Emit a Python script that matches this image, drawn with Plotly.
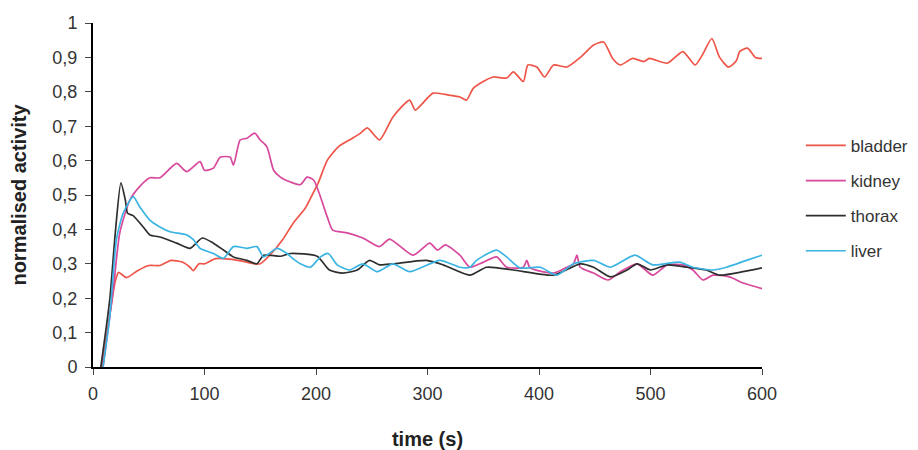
import plotly.graph_objects as go

# ---- data ----
bladder_t = [8, 15, 20, 23, 30, 40, 50, 60, 70, 80, 87, 90, 95, 100, 110, 130, 145, 150, 160, 170, 180, 190, 195, 202, 210, 220, 230, 240, 246, 257, 269, 284, 289, 305, 320, 329, 335, 341, 350, 359, 371, 377, 386, 390, 398, 405, 413, 425, 437, 449, 458, 466, 473, 484, 494, 499, 515, 529, 540, 547, 555, 562, 570, 577, 580, 587, 594, 600]
bladder_v = [0, 0.15, 0.25, 0.275, 0.26, 0.28, 0.295, 0.295, 0.31, 0.305, 0.29, 0.28, 0.30, 0.30, 0.315, 0.31, 0.30, 0.30, 0.33, 0.37, 0.42, 0.46, 0.49, 0.535, 0.60, 0.64, 0.66, 0.68, 0.695, 0.66, 0.727, 0.776, 0.747, 0.796, 0.79, 0.785, 0.776, 0.81, 0.83, 0.843, 0.84, 0.858, 0.83, 0.878, 0.872, 0.843, 0.878, 0.872, 0.90, 0.936, 0.945, 0.897, 0.878, 0.897, 0.888, 0.897, 0.883, 0.917, 0.878, 0.91, 0.955, 0.90, 0.872, 0.89, 0.917, 0.927, 0.90, 0.897]

kidney_t = [9, 18, 24, 33, 42, 51, 60, 75, 84, 96, 100, 108, 114, 123, 126, 132, 138, 145, 150, 156, 162, 168, 177, 186, 192, 198, 210, 215, 228, 242, 257, 266, 287, 302, 309, 316, 329, 338, 347, 362, 371, 386, 389, 392, 413, 425, 431, 434, 437, 449, 462, 473, 488, 502, 515, 529, 538, 547, 556, 571, 583, 600]
kidney_v = [0, 0.22, 0.39, 0.485, 0.525, 0.55, 0.55, 0.592, 0.568, 0.597, 0.572, 0.578, 0.61, 0.61, 0.587, 0.66, 0.665, 0.68, 0.66, 0.64, 0.572, 0.552, 0.538, 0.53, 0.552, 0.543, 0.437, 0.398, 0.39, 0.375, 0.35, 0.372, 0.325, 0.36, 0.34, 0.355, 0.325, 0.29, 0.30, 0.32, 0.29, 0.29, 0.31, 0.288, 0.273, 0.29, 0.30, 0.325, 0.29, 0.273, 0.253, 0.277, 0.30, 0.267, 0.297, 0.297, 0.282, 0.253, 0.267, 0.262, 0.244, 0.228]

thorax_t = [7, 15, 20, 25, 29, 31, 36, 45, 51, 60, 75, 87, 98, 108, 117, 126, 138, 147, 153, 168, 177, 201, 212, 224, 237, 248, 257, 269, 299, 314, 338, 353, 377, 413, 437, 449, 464, 479, 488, 500, 515, 533, 550, 562, 583, 600]
thorax_v = [0, 0.195, 0.39, 0.535, 0.485, 0.447, 0.44, 0.407, 0.384, 0.378, 0.36, 0.345, 0.375, 0.36, 0.34, 0.32, 0.31, 0.30, 0.325, 0.322, 0.33, 0.322, 0.282, 0.273, 0.282, 0.31, 0.297, 0.30, 0.31, 0.297, 0.267, 0.29, 0.282, 0.267, 0.30, 0.29, 0.262, 0.282, 0.30, 0.282, 0.297, 0.29, 0.282, 0.267, 0.277, 0.288]

liver_t = [9, 15, 21, 27, 36, 42, 51, 60, 69, 84, 90, 96, 108, 117, 126, 138, 147, 153, 165, 174, 179, 186, 195, 204, 211, 219, 230, 242, 255, 269, 284, 311, 329, 338, 344, 362, 371, 383, 401, 416, 431, 449, 464, 486, 502, 526, 538, 556, 568, 586, 600]
liver_v = [0, 0.145, 0.37, 0.447, 0.495, 0.465, 0.427, 0.407, 0.393, 0.384, 0.37, 0.345, 0.33, 0.316, 0.35, 0.345, 0.35, 0.32, 0.345, 0.33, 0.316, 0.30, 0.29, 0.32, 0.33, 0.297, 0.282, 0.30, 0.277, 0.30, 0.277, 0.31, 0.29, 0.29, 0.31, 0.34, 0.32, 0.288, 0.29, 0.267, 0.30, 0.31, 0.29, 0.325, 0.297, 0.305, 0.29, 0.282, 0.29, 0.31, 0.325]

x_ticks = [0, 100, 200, 300, 400, 500, 600]
y_ticks = [0, 0.1, 0.2, 0.3, 0.4, 0.5, 0.6, 0.7, 0.8, 0.9, 1]
y_tick_labels = ["0", "0,1", "0,2", "0,3", "0,4", "0,5", "0,6", "0,7", "0,8", "0,9", "1"]

series = [
    ("bladder", bladder_t, bladder_v, "#EE5548"),
    ("kidney", kidney_t, kidney_v, "#D8489C"),
    ("thorax", thorax_t, thorax_v, "#2E2E2E"),
    ("liver", liver_t, liver_v, "#3AB4E2"),
]

fig = go.Figure()
for name, t, v, c in series:
    fig.add_trace(go.Scatter(
        x=t, y=v, name=name, mode="lines", legendgroup=name,
        line=dict(color=c, width=1.7, shape="spline", smoothing=0.6),
    ))

font_family = "Liberation Sans, Arial, sans-serif"
fig.update_layout(
    width=910, height=442,
    margin=dict(l=85, r=156, t=15, b=83, autoexpand=False),
    paper_bgcolor="white", plot_bgcolor="white",
    font=dict(family=font_family, size=18, color="#333333"),
    showlegend=True,
    legend=dict(x=1.058, y=0.695, xanchor="left", yanchor="top",
                font=dict(size=17, color="#333333"), tracegroupgap=10,
                itemwidth=40, bgcolor="rgba(0,0,0,0)"),
    xaxis=dict(range=[0, 600], tickvals=x_ticks, ticks="outside", ticklen=6,
               tickcolor="#444", showline=True, linecolor="black", linewidth=2,
               showgrid=False, zeroline=False, tickfont=dict(size=18), automargin=False,
               ticklabelstandoff=3,
               title=dict(text="<b>time (s)</b>", font=dict(size=20, color="#222"), standoff=30)),
    yaxis=dict(range=[0, 1], tickvals=y_ticks, ticktext=y_tick_labels,
               ticks="outside", ticklen=6, tickcolor="#444", showline=True,
               linecolor="black", linewidth=2, showgrid=False, zeroline=False,
               tickfont=dict(size=18), automargin=False, ticklabelstandoff=4,
               title=dict(text="<b>normalised activity</b>", font=dict(size=20, color="#222"), standoff=20)),
)

fig.write_html("out.html")
